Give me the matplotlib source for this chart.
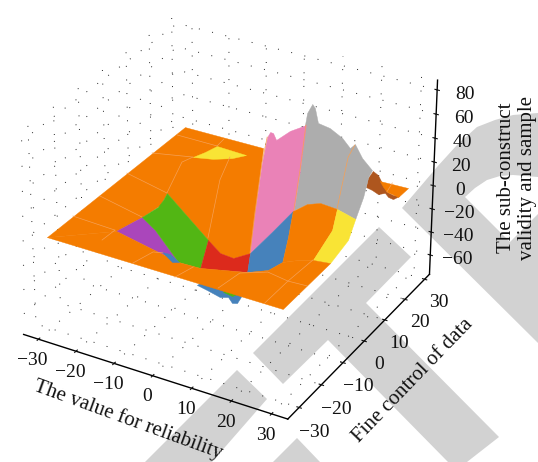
import matplotlib
matplotlib.use('Agg')
import matplotlib.pyplot as plt
from matplotlib.patches import Polygon
from mpl_toolkits.mplot3d.art3d import Poly3DCollection

plt.rcParams['font.family'] = ['Liberation Serif', 'DejaVu Serif']

# ---------- surface regions (x, y, z) ----------
under_blue_x = [1.2, 1.7, 3.2, 4.8, 5.6, 6.6, 7.3, 7.7, 2.5]
under_blue_y = [-17.9, -14.4, -11.3, -10.4, -10.0, -9.5, -9.0, -8.6, -10.0]
under_blue_z = [-30, -40, -50, -50, -55, -55, -50, -40, -30]
under_green_x = [4.0, 5.4, 7.5, 7.1, 4.5]
under_green_y = [-11.2, -9.6, -9.3, -9.0, -9.9]
under_green_z = [-45, -50, -45, -40, -40]
sliver_x = [-6.1, -5.0, -2.5, -3.3]
sliver_y = [-20.5, -19.1, -19.3, -20.9]
sliver_z = [-5, -8, -12, -10]
brown_x = [21.3, 23.2, 25.1, 26.6, 28.0, 29.4, 28.1, 26.7, 25.2, 23.6, 21.5, 19.7, 20.6]
brown_y = [26.9, 25.8, 24.7, 23.8, 24.2, 24.5, 24.0, 24.3, 25.6, 25.3, 26.3, 26.8, 25.9]
brown_z = [10, 10, 5, 2, 0, 0, -3, -3, -3, -5, -5, -5, 5]
tip_x = [23.6, 29.5, 29.4, 27.6, 26.1, 24.8]
tip_y = [26.0, 28.7, 24.0, 24.5, 24.8, 25.4]
tip_z = [5, 0, 0, 0, 0, 2]
gray_x = [10.7, 11.1, 12.8, 13.7, 14.1, 16.2, 19.5, 20.6, 22.0, 22.6, 23.4, 22.9, 23.7, 25.5, 23.5, 21.5, 19.2, 15.4, 13.1]
gray_y = [13.6, 13.8, 13.0, 12.6, 13.4, 15.1, 14.9, 16.6, 16.3, 18.8, 22.3, 21.5, 17.7, 10.6, 5.5, 1.3, -0.5, 0.4, 7.2]
gray_z = [60, 70, 80, 78, 65, 60, 55, 45, 50, 35, 20, 15, 5, 0, 15, 25, 25, 15, 35]
pink_x = [5.5, 6.3, 7.1, 9.1, 10.9, 13.1, 15.4, 9.5, 4.7, 4.6, 1.4, 4.7]
pink_y = [7.0, 6.9, 6.9, 9.6, 13.7, 7.2, 0.4, 1.1, -0.4, 1.9, 10.6, 7.1]
pink_z = [60, 60, 55, 60, 60, 35, 15, -10, -30, 0, 25, 55]
back_x = [-29.8, -8.6, 4.6, 4.7, 1.2, -2.5, -6.5, -20.1, -18.6, -19.4, -19.8, -30.3]
back_y = [28.6, 28.8, 1.9, -0.4, -1.9, -1.5, -0.1, 4.4, -1.0, -7.6, -17.8, -29.7]
back_z = [0, 0, 0, -30, -35, -35, -30, -10, -10, -10, -5, 0]
yback_x = [-17.9, -16.1, -14.3, -6.3, -9.2, -13.4]
yback_y = [12.4, 14.8, 17.2, 16.8, 15.4, 13.9]
yback_z = [10, 12, 15, 15, 12, 10]
purple_x = [-19.4, -15.2, -4.8, -19.8]
purple_y = [-7.6, -8.8, -15.9, -17.8]
purple_z = [-10, -15, -20, -5]
green_x = [-20.1, -6.5, -4.4, -4.8, -15.2, -19.4, -18.6, -19.2]
green_y = [4.4, -0.1, -7.1, -15.9, -8.8, -7.6, -2.0, 1.3]
green_z = [-10, -30, -40, -20, -15, -10, -10, -10]
red_x = [-6.5, -2.5, 1.2, 4.7, 5.7, -4.4]
red_y = [-0.1, -1.5, -1.9, -0.4, -3.4, -7.1]
red_z = [-30, -35, -35, -30, -40, -40]
blue_x = [4.7, 9.5, 15.4, 16.2, 16.6, 13.1, 5.7]
blue_y = [-0.4, 1.1, -0.1, -3.6, -6.8, -6.9, -3.4]
blue_z = [-30, -10, 15, 0, -15, -25, -40]
dome_x = [15.4, 19.2, 21.5, 23.5, 24.5, 24.5, 20.3, 16.6, 16.2]
dome_y = [-0.1, -0.5, 1.3, 5.5, 1.5, -7.2, -6.7, -6.8, -3.6]
dome_z = [15, 25, 25, 15, 5, -5, -10, -15, 0]
yright_x = [23.5, 25.5, 27.9, 28.4, 24.5, 24.5]
yright_y = [5.5, 10.6, 2.7, -6.5, -7.2, 1.5]
yright_z = [15, 0, -2, -5, -5, 5]
lip_x = [-30.3, -19.8, -4.8, 0.7, 10.7, 15.5, 16.6, 20.3, 24.5, 28.4, 29.7]
lip_y = [-29.7, -17.8, -15.9, -15.7, -12.1, -11.3, -6.8, -6.7, -7.2, -6.5, -30.0]
lip_z = [0, -5, -20, -20, -20, -15, -15, -10, -5, -5, 0]

# pale mesh lines on the surface
mesh_lines = [
    ([-29.4, -18.5], [24.4, 24.4], [0, 0]),
    ([-18.5, -18.8], [24.4, 28.1], [0, 0]),
    ([-30.0, -20.7], [14.1, 17.1], [0, 0]),
    ([-20.7, -21.7, -17.3], [17.1, 13.8, -0.1], [0, 0, 0]),
    ([-13.2, -9.8, -4.3], [21.3, 10.9, -3.8], [0, 0, -20]),
    ([-30.1, -17.3], [3.2, -0.1], [0, 0]),
    ([-29.8, -16.6], [-8.7, -12.0], [0, 0]),
    ([-30.3, -18.8], [-19.2, -19.8], [0, 0]),
    ([-19.0, -18.8], [-24.8, -19.8], [0, 0]),
    ([-7.9, -6.5, -4.4], [-29.7, -23.6, -22.9], [0, 0, 0]),
    ([3.1, 4.4], [-30.2, -24.7], [0, 0]),
    ([13.5, 14.5, 19.6, 25.2, 29.7], [-29.5, -21.9, -18.6, -19.7, -19.4], [0, 0, 0, 0, 0]),
    ([25.2, 25.2, 25.7], [-29.8, -19.7, -9.4], [0, 0, 0]),
    ([23.5, 22.2, 22.2], [5.5, 12.8, 15.9], [15, 45, 50]),
    ([26.1, 25.3], [24.8, 29.0], [0, 0]),
    ([4.7, 4.6, 1.4, 4.7], [-0.4, 1.9, 10.6, 7.1], [-30, 0, 25, 55]),
    ([10.9, 13.1, 15.4], [13.7, 7.2, 0.4], [60, 35, 15]),
]

x_ticks = [-30, -20, -10, 0, 10, 20, 30]
y_ticks = [-30, -20, -10, 0, 10, 20, 30]
z_ticks = [-60, -40, -20, 0, 20, 40, 60, 80]
x_label = 'The value for reliability'
y_label = 'Fine control of data'
z_label = 'The sub-construct\nvalidity and sample'

ORANGE, YELLOW, PINK, GRAY = '#f47c00', '#f9e435', '#ea82b7', '#adadad'
BLUE, GREEN, PURPLE, RED, BROWN = '#4682bb', '#52b614', '#aa46bb', '#dc2a1c', '#ae561e'

regions = [
    (under_blue_x, under_blue_y, under_blue_z, BLUE),
    (under_green_x, under_green_y, under_green_z, GREEN),
    (brown_x, brown_y, brown_z, BROWN),
    (tip_x, tip_y, tip_z, ORANGE),
    (gray_x, gray_y, gray_z, GRAY),
    (back_x, back_y, back_z, ORANGE),
    (yback_x, yback_y, yback_z, YELLOW),
    (pink_x, pink_y, pink_z, PINK),
    (purple_x, purple_y, purple_z, PURPLE),
    (green_x, green_y, green_z, GREEN),
    (red_x, red_y, red_z, RED),
    (blue_x, blue_y, blue_z, BLUE),
    (dome_x, dome_y, dome_z, ORANGE),
    (yright_x, yright_y, yright_z, YELLOW),
    (lip_x, lip_y, lip_z, ORANGE),
    (sliver_x, sliver_y, sliver_z, BLUE),
]

W, H = 538, 462
fig = plt.figure(figsize=(W / 100, H / 100), dpi=100, facecolor='white')
w, cx, cy = 471.80, 223.72, 213.96
ax = fig.add_axes([(cx - w / 2) / W, (H - cy - w / 2) / H, w / W, w / H], projection='3d')
ax.patch.set_visible(False)
ax.set_zorder(2)
ax.set_xlim(-34, 34, view_margin=0)
ax.set_ylim(-35, 32.5, view_margin=0)
ax.set_zlim(-77, 88, view_margin=0)
ax.view_init(30.0516, -60.2441)
ax.set_proj_type('persp', focal_length=1.1002)
ax.set_box_aspect((1, 1.0129, 0.7515))
ax.computed_zorder = False
ax.set_xticks(x_ticks)
ax.set_yticks(y_ticks)
ax.set_zticks(z_ticks)
for a in (ax.xaxis, ax.yaxis, ax.zaxis):
    a.set_pane_color((1, 1, 1, 0))
    a.pane.set_edgecolor((1, 1, 1, 0))
    a.line.set_color('black')
    a.line.set_linewidth(1.0)
    a._axinfo['grid'].update(color='#222222', linestyle=(0, (1, 13)), linewidth=.7)
    a._axinfo['tick'].update(inward_factor=.1, outward_factor=.1)
    a._axinfo['tick']['linewidth'] = {True: .8, False: .8}
    a._axinfo['tick']['color'] = 'black'
ax.tick_params(labelsize=14, colors='#111111')
ax.tick_params(axis='x', pad=-1.5)
ax.tick_params(axis='y', pad=2)
ax.tick_params(axis='z', pad=4)

for i, (xs, ys, zs, c) in enumerate(regions):
    poly = Poly3DCollection([list(zip(xs, ys, zs))], facecolors=c, edgecolors=c, linewidths=.3, zorder=10 + i)
    ax.add_collection3d(poly, autolim=False)
for xs, ys, zs in mesh_lines:
    ax.plot(xs, ys, zs, color='#f6a055', lw=.5, zorder=40)

# background stamp
stamp = [
    [(379, 227), (411, 257), (366, 303), (499, 437), (467, 462), (448, 462), (328, 340), (283, 384), (253, 353)],
    [(237, 370), (267, 399), (212, 462), (145, 462)],
    [(297, 438), (273, 462), (320, 462)],
    [(402, 208), (420, 187), (437, 167), (457, 145), (477, 127), (495, 120), (513, 115), (538, 113), (538, 177),
     (513, 175), (500, 176), (487, 180), (475, 188), (465, 197), (510, 242), (538, 214), (538, 343)],
]
for q in stamp:
    fig.add_artist(Polygon([(a / W, 1 - b / H) for a, b in q], closed=True, transform=fig.transFigure,
                           fc='#d2d2d2', ec='none', zorder=0))

lab = dict(fontsize=15, ha='center', va='center', rotation_mode='anchor', color='#111111', zorder=5)
fig.text(128 / W, 1 - 420 / H, x_label, rotation=-20, **lab)
fig.text(413 / W, 1 - 381 / H, y_label, rotation=46, **lab)
fig.text(517 / W, 1 - 178 / H, z_label, rotation=90, linespacing=1.2, multialignment='center', **lab)

fig.savefig('out.png')
